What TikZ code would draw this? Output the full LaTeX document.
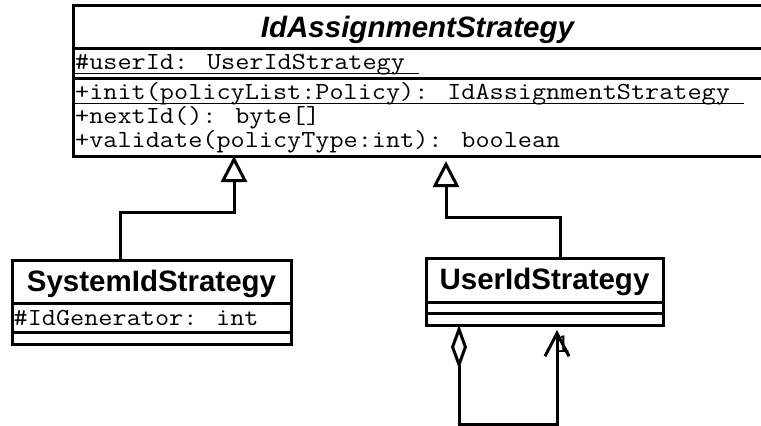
\documentclass[tikz,border=0pt]{standalone}
\usepackage{fontspec}
\usepackage{graphicx}
\setmainfont{Liberation Sans}
\usetikzlibrary{arrows.meta,calc}
\newcommand\ulrule[1]{\setbox0\hbox{#1}\rlap{\rule[-5pt]{\wd0}{1.3pt}}\box0}
\newcommand\wmono[1]{\scalebox{1.12}[1]{#1}}
\begin{document}
\begin{tikzpicture}[x=1pt,y=-1pt,
  box/.style={draw, line width=3pt, anchor=north west, inner sep=0pt, outer sep=0pt},
  cname/.style={font=\fontsize{29.5}{32}\selectfont\bfseries, anchor=base, inner sep=0pt},
  aname/.style={font=\fontsize{29.5}{32}\selectfont\bfseries\itshape, anchor=base, inner sep=0pt},
  mem/.style={font=\ttfamily\fontsize{24.5}{26}\selectfont, anchor=base west, inner sep=0pt},
  conn/.style={line width=3pt},
  gen/.style={conn, -{Triangle[open, length=26pt, width=26pt, fill=white]}},
  agg/.style={conn, {Diamond[open, length=44pt, width=16pt, fill=white]}-{Straight Barb[length=23pt, width=24pt]}},
]
\clip (0,0) rectangle (761,426);
\fill[white] (0,0) rectangle (761,426);

% IdAssignmentStrategy
\node[box, minimum width=689pt, minimum height=43pt] (mainT) at (73,5) {};
\node[box, minimum width=689pt, minimum height=30pt] (mainA) at (73,48) {};
\node[box, minimum width=689pt, minimum height=78pt] (mainO) at (73,78) {};
\node[aname] (mainname) at (417.5,37) {IdAssignmentStrategy};
\node[mem] (mainattr) at (75,69) {\wmono{\ulrule{\#userId: UserIdStrategy\ }}};
\node[mem] (op1) at (75,99) {\wmono{\ulrule{+init(policyList:Policy): IdAssignmentStrategy\ }}};
\node[mem] (op2) at (75,123) {\wmono{+nextId(): byte[]}};
\node[mem] (op3) at (75,147) {\wmono{+validate(policyType:int): boolean}};

% SystemIdStrategy
\node[box, minimum width=279pt, minimum height=43pt] (sysT) at (12,260) {};
\node[box, minimum width=279pt, minimum height=29pt] (sysA) at (12,303) {};
\node[box, minimum width=279pt, minimum height=12pt] (sysO) at (12,332) {};
\node[cname] (sysname) at (151.5,291) {SystemIdStrategy};
\node[mem] (sysattr) at (13.5,325) {\wmono{\#IdGenerator: int}};

% UserIdStrategy
\node[box, minimum width=237pt, minimum height=44pt] (userT) at (426,258) {};
\node[box, minimum width=237pt, minimum height=11pt] (userA) at (426,302) {};
\node[box, minimum width=237pt, minimum height=12pt] (userO) at (426,313) {};
\node[cname] (username) at (544.5,289) {UserIdStrategy};

% generalizations
\coordinate (g1a) at ($(sysT.north west)+(108,0)$);
\coordinate (g1b) at (234,212);
\coordinate (g1c) at (234,156);
\draw[gen] (g1a) |- (g1b) -- (g1c);

\coordinate (g2a) at ($(userT.north west)+(134,0)$);
\coordinate (g2b) at (446,217);
\coordinate (g2c) at (446,161);
\draw[gen] (g2a) |- (g2b) -- (g2c);

% self aggregation
\coordinate (s1) at ($(userO.south west)+(33,0)$);
\coordinate (s2) at (557,424);
\coordinate (s3) at (557,330);
\draw[agg] (s1) |- (s2) -- (s3);
\node[font=\fontsize{24}{26}\selectfont, inner sep=0pt] (mult) at (563,344) {1};
\end{tikzpicture}
\end{document}
